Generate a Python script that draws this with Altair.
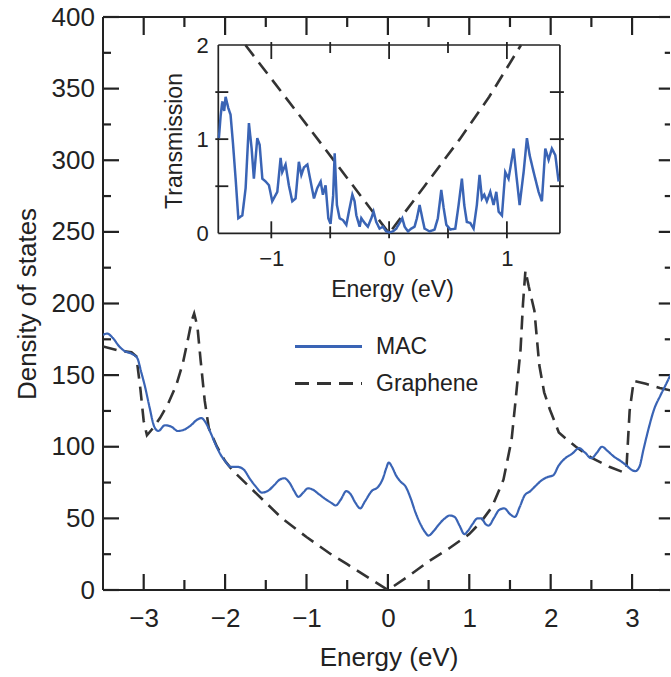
import altair as alt
import pandas as pd

# ---------------- main panel: density of states ----------------
mac_energy = [-3.50, -3.45, -3.38, -3.30, -3.24, -3.15, -3.08, -3.03, -2.98, -2.93,
              -2.87, -2.82, -2.74, -2.66, -2.58, -2.50, -2.42, -2.34, -2.29, -2.24,
              -2.18, -2.12, -2.05, -2.00, -1.93, -1.85, -1.77, -1.70, -1.62, -1.55,
              -1.48, -1.40, -1.33, -1.27, -1.21, -1.15, -1.10, -1.04, -0.98, -0.92,
              -0.85, -0.78, -0.70, -0.64, -0.58, -0.51, -0.46, -0.40, -0.34, -0.28,
              -0.20, -0.12, -0.06, -0.02, 0.01, 0.05, 0.10, 0.15, 0.22, 0.28,
              0.34, 0.40, 0.45, 0.50, 0.56, 0.63, 0.70, 0.76, 0.82, 0.88,
              0.94, 0.98, 1.04, 1.10, 1.15, 1.20, 1.24, 1.30, 1.37, 1.43,
              1.50, 1.56, 1.62, 1.68, 1.75, 1.82, 1.90, 1.97, 2.03, 2.10,
              2.18, 2.26, 2.35, 2.42, 2.50, 2.57, 2.63, 2.70, 2.78, 2.86,
              2.93, 2.99, 3.04, 3.09, 3.14, 3.20, 3.27, 3.35, 3.42, 3.48]
mac_dos = [178, 179, 176, 170, 167, 165, 162, 152, 141, 128,
           114, 111, 115, 114, 111, 112, 115, 119, 120, 117,
           110, 102, 94, 90, 86, 86, 84, 78, 72, 68,
           69, 73, 77, 78, 75, 69, 65, 68, 71, 70,
           67, 64, 61, 59, 63, 69, 67, 61, 57, 62,
           69, 72, 78, 85, 89, 86, 80, 76, 72, 64,
           54, 46, 41, 38, 41, 46, 50, 52, 51, 45,
           39, 41, 46, 50, 50, 46, 45, 50, 56, 57,
           53, 51, 58, 66, 69, 73, 77, 79, 80, 87,
           92, 95, 99, 96, 92, 96, 100, 97, 93, 90,
           87, 84, 83, 86, 98, 112, 126, 136, 144, 151]

gr_energy = [-3.50, -3.30, -3.15, -3.09, -3.04, -3.00, -2.96, -2.90, -2.80, -2.70,
             -2.60, -2.52, -2.46, -2.41, -2.38, -2.34, -2.30, -2.25, -2.20, -2.10,
             -2.00, -1.90, -1.70, -1.50, -1.30, -1.00, -0.70, -0.50, -0.25, 0.00,
             0.25, 0.50, 0.75, 1.00, 1.15, 1.28, 1.42, 1.52, 1.57, 1.63,
             1.66, 1.69, 1.73, 1.80, 1.86, 1.92, 1.99, 2.10, 2.20, 2.31,
             2.51, 2.72, 2.88, 2.93, 2.97, 3.02, 3.17, 3.34, 3.50]
gr_dos = [170, 167, 166, 163, 140, 118, 108, 112, 120, 130,
          143, 158, 174, 188, 193, 184, 160, 132, 113, 100,
          90, 83, 72, 61, 50, 37, 25, 18, 9, 0,
          9.5, 20, 29, 39, 48, 58, 77, 105, 133, 168,
          200, 223, 212, 195, 157, 138, 126, 110, 105, 100,
          92, 86, 82.5, 84, 125, 146, 144, 141, 139]

# ---------------- inset: transmission ----------------
t_mac_energy = [-1.445, -1.430, -1.416, -1.400, -1.388, -1.365, -1.346, -1.325, -1.303, -1.280,
                -1.246, -1.218, -1.190, -1.167, -1.148, -1.119, -1.099, -1.076, -1.048, -1.020,
                -0.992, -0.949, -0.921, -0.907, -0.879, -0.851, -0.822, -0.794, -0.766, -0.745,
                -0.723, -0.694, -0.666, -0.638, -0.610, -0.581, -0.562, -0.539, -0.516, -0.497,
                -0.475, -0.462, -0.443, -0.420, -0.392, -0.363, -0.335, -0.312, -0.293, -0.278,
                -0.250, -0.236, -0.208, -0.180, -0.151, -0.132, -0.109, -0.081, -0.053, -0.024,
                0.004, 0.032, 0.061, 0.089, 0.112, 0.132, 0.160, 0.188, 0.216, 0.236,
                0.259, 0.282, 0.301, 0.344, 0.386, 0.414, 0.443, 0.463, 0.486, 0.520,
                0.562, 0.590, 0.618, 0.638, 0.660, 0.689, 0.717, 0.745, 0.768, 0.788,
                0.808, 0.830, 0.859, 0.887, 0.910, 0.930, 0.958, 0.986, 1.014, 1.057,
                1.080, 1.108, 1.142, 1.170, 1.193, 1.227, 1.269, 1.297, 1.326, 1.354,
                1.382, 1.411, 1.439]
t_mac_trans = [1.01, 1.25, 1.40, 1.30, 1.45, 1.33, 1.26, 0.95, 0.58, 0.16,
               0.19, 0.48, 1.17, 0.90, 0.58, 1.01, 0.94, 0.58, 0.55, 0.51,
               0.34, 0.44, 0.80, 0.65, 0.73, 0.51, 0.34, 0.37, 0.76, 0.62,
               0.70, 0.73, 0.55, 0.37, 0.48, 0.55, 0.41, 0.51, 0.16, 0.10,
               0.40, 0.85, 0.30, 0.16, 0.14, 0.09, 0.27, 0.41, 0.34, 0.19,
               0.07, 0.16, 0.11, 0.07, 0.16, 0.23, 0.12, 0.05, 0.07, 0.02,
               0.01, 0.02, 0.05, 0.11, 0.16, 0.07, 0.02, 0.05, 0.07, 0.16,
               0.30, 0.16, 0.05, 0.02, 0.04, 0.16, 0.46, 0.27, 0.09, 0.04,
               0.05, 0.30, 0.58, 0.30, 0.12, 0.11, 0.05, 0.30, 0.62, 0.37,
               0.41, 0.34, 0.44, 0.30, 0.44, 0.23, 0.19, 0.65, 0.58, 0.90,
               0.62, 0.30, 0.65, 1.01, 0.83, 0.65, 0.44, 0.34, 0.90, 0.78,
               0.90, 0.83, 0.55]

t_gr_energy = [-1.22, -0.60, 0.00, 0.30, 0.60, 0.85, 1.12]
t_gr_trans = [2.00, 0.99, 0.00, 0.50, 1.00, 1.45, 2.00]

series_names = ["MAC", "Graphene"]
series_colors = ["#3a64b5", "#333333"]
series_dashes = [[1, 0], [14, 8]]

main_x_major = [-3, -2, -1, 0, 1, 2, 3]
main_x_minor = [-2.5, -1.5, -0.5, 0.5, 1.5, 2.5]
main_y_major = [0, 50, 100, 150, 200, 250, 300, 350, 400]
main_y_minor = [25, 75, 125, 175, 225, 275, 325, 375]
inset_x_major = [-1, 0, 1]
inset_x_minor = [-0.5, 0.5]
inset_y_ticks = [0.5, 1, 1.5]
inset_y_labels = [0, 1, 2]

# ---------------- layout / style ----------------
W, H = 567, 573
FONT = "Liberation Sans"
TXT = "#222222"
AX = "#222222"

MX = (-3.5, 3.466)
MY = (0, 400)
IX = (-1.45, 1.45)
IY = (0, 2)
IX_RANGE = (115.3, 456.9)
IY_RANGE = (216.3, 28.0)

main_x = alt.Scale(domain=list(MX), nice=False, zero=False)
main_y = alt.Scale(domain=list(MY), nice=False, zero=False)
inset_x = alt.Scale(domain=list(IX), range=list(IX_RANGE), nice=False, zero=False)
inset_y = alt.Scale(domain=list(IY), range=list(IY_RANGE), nice=False, zero=False)

# scale units per pixel (turns tick lengths/widths given in px into scale units)
KX_MAIN = (MX[1] - MX[0]) / W
KY_MAIN = (MY[1] - MY[0]) / H
KX_INSET = (IX[1] - IX[0]) / (IX_RANGE[1] - IX_RANGE[0])
KY_INSET = (IY[1] - IY[0]) / (IY_RANGE[0] - IY_RANGE[1])

legend_def = alt.Legend(
    title=None, orient="none", legendX=192, legendY=318, padding=0,
    symbolType="M-3.35,0H3.35", symbolSize=400, symbolStrokeWidth=3,
    symbolOffset=22, labelOffset=36, labelFontSize=23, labelColor=TXT,
    labelFont=FONT, rowPadding=13,
)
color_enc = alt.Color("series:N", scale=alt.Scale(domain=series_names, range=series_colors), legend=legend_def)
dash_enc = alt.StrokeDash("series:N", scale=alt.Scale(domain=series_names, range=series_dashes), legend=legend_def)

df_mac = pd.DataFrame({"E": mac_energy, "v": mac_dos, "series": "MAC"})
df_gr = pd.DataFrame({"E": gr_energy, "v": gr_dos, "series": "Graphene"})
df_tmac = pd.DataFrame({"E": t_mac_energy, "v": t_mac_trans, "series": "MAC"})
df_tgr = pd.DataFrame({"E": t_gr_energy, "v": t_gr_trans, "series": "Graphene"})

main_x_axis = alt.Axis(
    orient="bottom", values=main_x_major, domain=False, ticks=False, tickSize=0,
    labelPadding=15, labelFontSize=26, labelFlush=False, labelOverlap=False,
    title="Energy (eV)", titleFontSize=26, titleX=285.5, titleY=75,
    titleBaseline="alphabetic", grid=False,
)
main_y_axis = alt.Axis(
    orient="left", values=main_y_major, domain=False, ticks=False, tickSize=0,
    labelPadding=8.5, labelFontSize=26, labelFlush=False, labelOverlap=False,
    title="Density of states", titleFontSize=26, titleX=-68, titleY=286.5,
    titleBaseline="alphabetic", grid=False,
)
inset_x_axis = alt.Axis(
    orient="bottom", offset=IY_RANGE[0] - H, values=inset_x_major, format="~g", domain=False,
    ticks=False, tickSize=0, labelPadding=15, labelFontSize=22, labelFlush=False,
    labelOverlap=False, title="Energy (eV)", titleFontSize=23, titleX=289, titleY=63.4,
    titleBaseline="alphabetic", grid=False,
)
inset_y_axis = alt.Axis(
    orient="left", offset=-IX_RANGE[0], values=inset_y_labels, format="~g", domain=False,
    ticks=False, tickSize=0, labelPadding=10, labelFontSize=22, labelFlush=False,
    labelOverlap=False, labelBound=False, title="Transmission", titleFontSize=23,
    titleX=-36.6, titleY=123.5, titleBaseline="alphabetic", grid=False,
)


def tick_boxes(specs, kx, ky, width_px):
    """Each tick becomes a thin filled box (x1, x2, y1, y2) crossing its frame edge."""
    rows = []
    for vals, edge, out_px, in_px, inward, vertical in specs:
        if vertical:
            a = edge - inward * out_px * ky
            b = edge + inward * in_px * ky
            half = 0.5 * width_px * kx
            rows += [(v - half, v + half, min(a, b), max(a, b)) for v in vals]
        else:
            a = edge - inward * out_px * kx
            b = edge + inward * in_px * kx
            half = 0.5 * width_px * ky
            rows += [(min(a, b), max(a, b), v - half, v + half) for v in vals]
    return pd.DataFrame(rows, columns=["x1", "x2", "y1", "y2"])


main_ticks = tick_boxes([
    (main_x_major, MY[0], 0, 16, +1, True),
    (main_x_minor, MY[0], 0, 10, +1, True),
    (main_x_major, MY[1], 0, 18, -1, True),
    (main_x_minor, MY[1], 0, 10, -1, True),
    (main_y_major, MX[0], 0, 16, +1, False),
    (main_y_minor, MX[0], 0, 8, +1, False),
    (main_y_major, 3.5, 0, 14, -1, False),
    (main_y_minor, 3.5, 0, 8, -1, False),
], KX_MAIN, KY_MAIN, 2.2)
inset_ticks = tick_boxes([
    (inset_x_major, IY[0], 5, 12, +1, True),
    (inset_x_minor, IY[0], 5, 7, +1, True),
    (inset_x_major, IY[1], 3, 14, -1, True),
    (inset_x_minor, IY[1], 3, 8, -1, True),
    (inset_y_ticks, IX[0], 3, 10, +1, False),
    (inset_y_ticks, IX[1], 4, 10, -1, False),
], KX_INSET, KY_INSET, 1.8)

main_frame = pd.DataFrame({
    "x1": [MX[0], MX[0], MX[0]], "x2": [3.5, 3.5, MX[0]],
    "y1": [MY[0], MY[1], MY[0]], "y2": [MY[0], MY[1], MY[1]],
})
inset_frame = pd.DataFrame({
    "x1": [IX[0], IX[0], IX[0], IX[1]], "x2": [IX[1], IX[1], IX[0], IX[1]],
    "y1": [IY[0], IY[1], IY[0], IY[0]], "y2": [IY[0], IY[1], IY[1], IY[1]],
})


def frame_layer(df, xscale, yscale, width):
    return alt.Chart(df).mark_rule(strokeWidth=width, color=AX).encode(
        x=alt.X("x1:Q", scale=xscale, axis=None), x2=alt.X2("x2"),
        y=alt.Y("y1:Q", scale=yscale, axis=None), y2=alt.Y2("y2"),
    )


def tick_layer(df, xscale, yscale):
    return alt.Chart(df).mark_rect(color=AX, opacity=1, strokeWidth=0).encode(
        x=alt.X("x1:Q", scale=xscale, axis=None), x2=alt.X2("x2"),
        y=alt.Y("y1:Q", scale=yscale, axis=None), y2=alt.Y2("y2"),
    )


layers = [
    frame_layer(main_frame, main_x, main_y, 2),
    frame_layer(inset_frame, inset_x, inset_y, 1.7),
    tick_layer(main_ticks, main_x, main_y),
    tick_layer(inset_ticks, inset_x, inset_y),
    # main curves
    alt.Chart(df_gr).mark_line(strokeWidth=2.6, clip=True).encode(
        x=alt.X("E:Q", scale=main_x, axis=None),
        y=alt.Y("v:Q", scale=main_y, axis=None),
        color=color_enc, strokeDash=dash_enc,
    ),
    alt.Chart(df_mac).mark_line(strokeWidth=2.2, clip=True, interpolate="monotone").encode(
        x=alt.X("E:Q", scale=main_x, axis=main_x_axis),
        y=alt.Y("v:Q", scale=main_y, axis=main_y_axis),
        color=color_enc, strokeDash=dash_enc,
    ),
    # inset curves
    alt.Chart(df_tgr).mark_line(strokeWidth=2.6).encode(
        x=alt.X("E:Q", scale=inset_x, axis=None),
        y=alt.Y("v:Q", scale=inset_y, axis=None),
        color=color_enc, strokeDash=dash_enc,
    ),
    alt.Chart(df_tmac).mark_line(strokeWidth=2.5).encode(
        x=alt.X("E:Q", scale=inset_x, axis=inset_x_axis),
        y=alt.Y("v:Q", scale=inset_y, axis=inset_y_axis),
        color=color_enc, strokeDash=dash_enc,
    ),
]

chart = alt.layer(*layers).resolve_scale(
    x="independent", y="independent"
).properties(
    width=W, height=H,
    padding={"left": 103, "top": 17, "right": 0, "bottom": 87},
    autosize=alt.AutoSizeParams(type="none"),
).configure_view(stroke=None).configure_axis(
    labelFont=FONT, titleFont=FONT, labelColor=TXT, titleColor=TXT,
    titleFontWeight="normal", grid=False,
)

chart.save("out.html", embed_options={"renderer": "svg", "actions": False})
